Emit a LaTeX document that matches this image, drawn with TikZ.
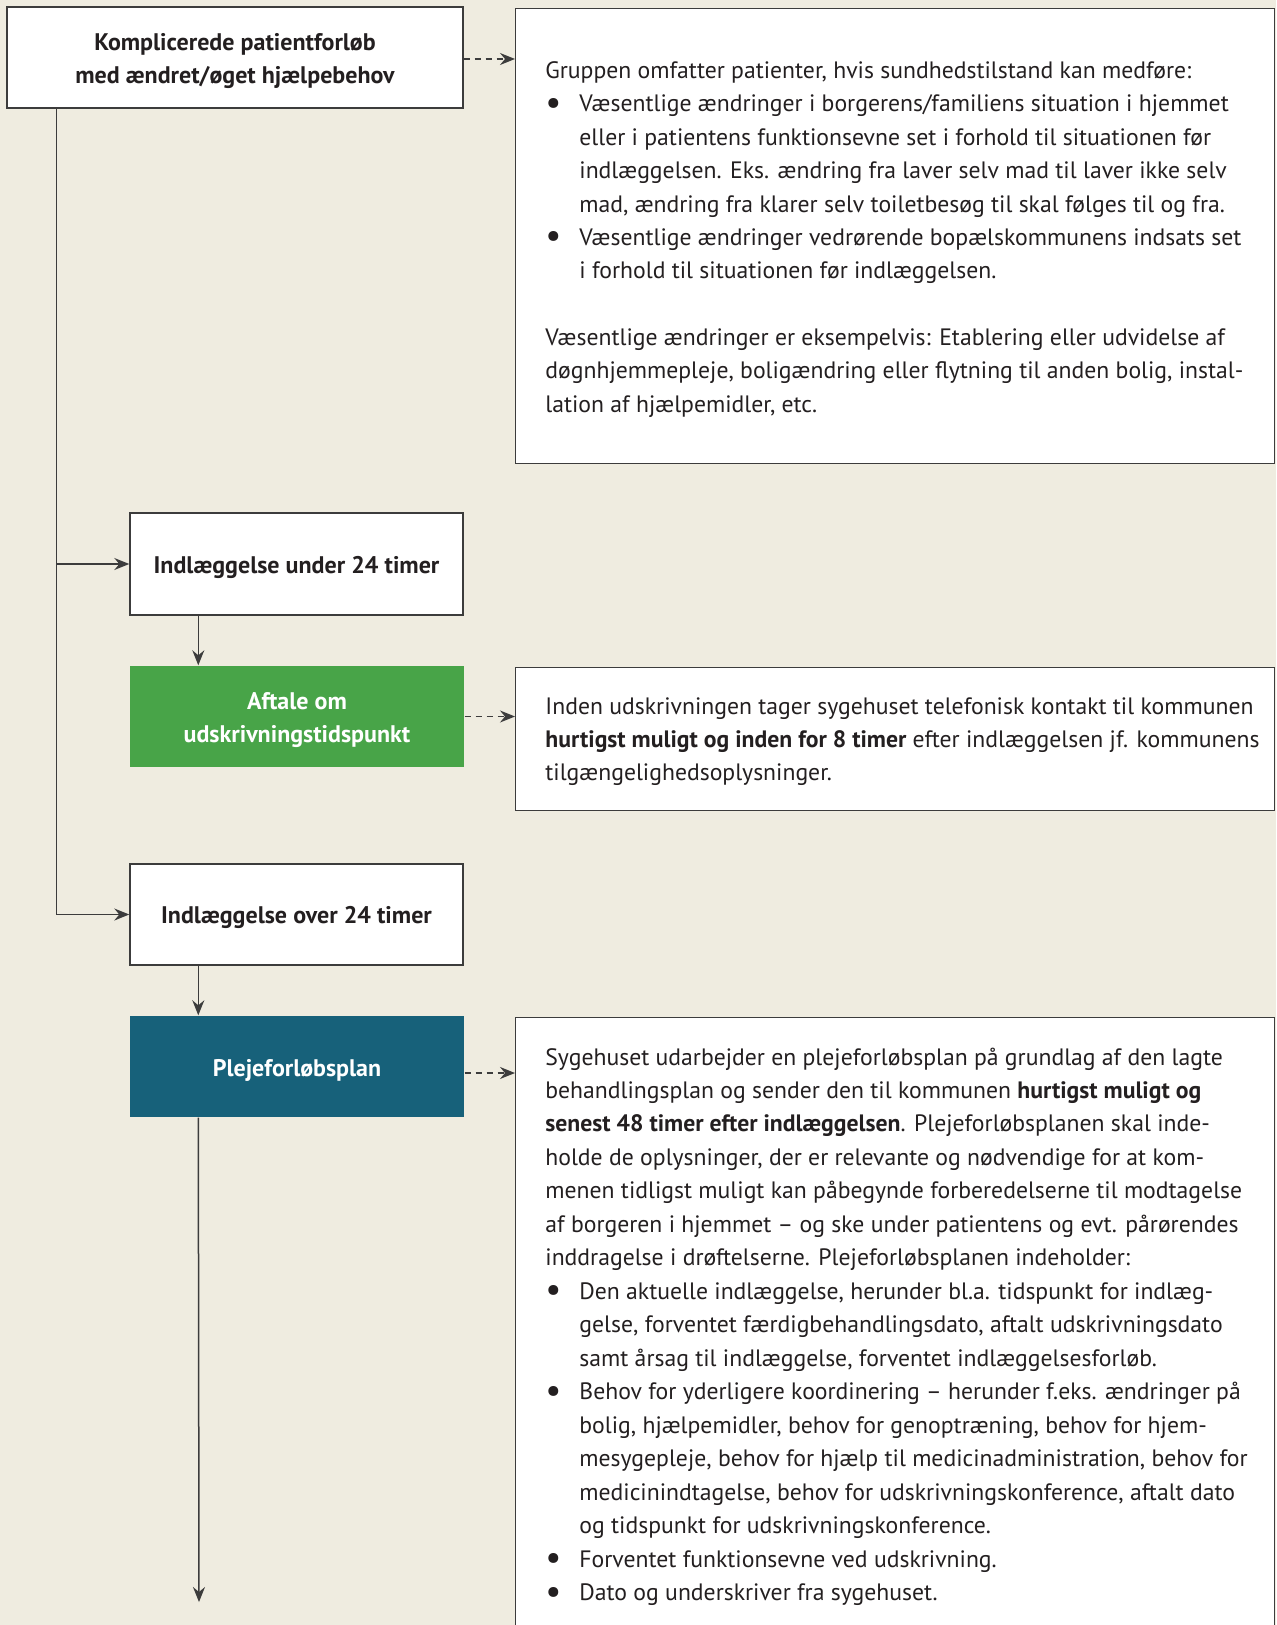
\documentclass[tikz,border=0pt]{standalone}
\usepackage{fontspec}
\usepackage{graphicx}
\setmainfont{PT Sans}
\usetikzlibrary{arrows.meta}
\definecolor{bg}{HTML}{EFECE0}
\definecolor{linec}{HTML}{3C3C3C}
\definecolor{txt}{HTML}{231F20}
\definecolor{grn}{HTML}{48A448}
\definecolor{teal}{HTML}{17617A}
\newcommand{\bul}{\makebox[17pt][l]{\raisebox{-1.2pt}{\scalebox{1.5}{\textbullet}}}}
\newcommand{\ind}{\hspace*{17pt}}
\tikzset{
  lbox/.style={draw=linec, line width=0.7pt, fill=white, inner sep=0pt},
  gbox/.style={lbox, draw=none, fill=grn},
  tbox/.style={lbox, draw=none, fill=teal},
  lbl/.style={text=txt, align=center, inner sep=0pt, font=\bfseries\fontsize{12}{16.5}\selectfont},
  wlbl/.style={lbl, text=white},
  infobox/.style={draw=linec, line width=0.7pt, fill=white, inner sep=0pt, anchor=north west},
  body/.style={anchor=base west, inner sep=0pt, text=txt, font=\fontsize{11.85}{14}\selectfont},
  conn/.style={draw=linec, line width=0.75pt, -{Stealth[length=7.5pt,width=6pt,inset=2.5pt]}},
  dconn/.style={conn, dash pattern=on 3pt off 2.5pt}
}
\begin{document}
\begin{tikzpicture}[x=0.5pt,y=-0.5pt]
\useasboundingbox[fill=bg] (0,0) rectangle (1276,1625);
% left column boxes
\node[lbox, minimum width=228pt, minimum height=50.5pt] (komp) at (235,57.5) {};
\node[lbox, minimum width=166.5pt, minimum height=51pt] (under) at (296.5,564) {};
\node[gbox, minimum width=167pt, minimum height=50.5pt] (aftale) at (297,716.5) {};
\node[lbox, minimum width=166.5pt, minimum height=50.5pt] (over) at (296.5,914.5) {};
\node[tbox, minimum width=167pt, minimum height=50.5pt] (pleje) at (297,1066.5) {};
% left column labels
\node[lbl] (komp-t) at ([yshift=-1.9pt]komp.center) {Komplicerede patientforløb\\med ændret/øget hjælpebehov};
\node[lbl] (under-t) at ([yshift=-1.6pt]under.center) {Indlæggelse under 24 timer};
\node[wlbl] (aftale-t) at ([yshift=-1.9pt]aftale.center) {Aftale om\\udskrivningstidspunkt};
\node[lbl] (over-t) at ([yshift=-1.6pt]over.center) {Indlæggelse over 24 timer};
\node[wlbl] (pleje-t) at ([yshift=-1.9pt]pleje.center) {Plejeforløbsplan};
% right column boxes
\node[infobox, minimum width=379.5pt, minimum height=227.5pt] (info1) at (515,8) {};
\node[infobox, minimum width=379.5pt, minimum height=71.5pt] (info2) at (515,667) {};
\node[infobox, minimum width=379.5pt, minimum height=311.5pt] (info3) at (515,1017) {};
% texts box 1
\foreach \t [count=\i] in {
  {Gruppen omfatter patienter, hvis sundhedstilstand kan medføre:},
  {\bul Væsentlige ændringer i borgerens/familiens situation i hjemmet},
  {\ind eller i patientens funktionsevne set i forhold til situationen før},
  {\ind indlæggelsen. Eks. ændring fra laver selv mad til laver ikke selv},
  {\ind mad, ændring fra klarer selv toiletbesøg til skal følges til og fra.},
  {\bul Væsentlige ændringer vedrørende bopælskommunens indsats set},
  {\ind i forhold til situationen før indlæggelsen.}}
  \node[body] (ta\i) at (545,{78.5+33.38*(\i-1)}) {\t};
\foreach \t [count=\i from 9] in {
  {Væsentlige ændringer er eksempelvis: Etablering eller udvidelse af},
  {døgnhjemmepleje, boligændring eller flytning til anden bolig, instal-},
  {lation af hjælpemidler, etc.}}
  \node[body] (ta\i) at (545,{78.5+33.38*(\i-1)}) {\t};
% texts box 2
\foreach \t [count=\i] in {
  {Inden udskrivningen tager sygehuset telefonisk kontakt til kommunen},
  {\textbf{hurtigst muligt og inden for 8 timer} efter indlæggelsen jf. kommunens},
  {tilgængelighedsoplysninger.}}
  \node[body] (tb\i) at (545,{714+33.4*(\i-1)}) {\t};
% texts box 3
\foreach \t [count=\i] in {
  {Sygehuset udarbejder en plejeforløbsplan på grundlag af den lagte},
  {behandlingsplan og sender den til kommunen \textbf{hurtigst muligt og}},
  {\textbf{senest 48 timer efter indlæggelsen}. Plejeforløbsplanen skal inde-},
  {holde de oplysninger, der er relevante og nødvendige for at kom-},
  {menen tidligst muligt kan påbegynde forberedelserne til modtagelse},
  {af borgeren i hjemmet – og ske under patientens og evt. pårørendes},
  {inddragelse i drøftelserne. Plejeforløbsplanen indeholder:},
  {\bul Den aktuelle indlæggelse, herunder bl.a. tidspunkt for indlæg-},
  {\ind gelse, forventet færdigbehandlingsdato, aftalt udskrivningsdato},
  {\ind samt årsag til indlæggelse, forventet indlæggelsesforløb.},
  {\bul Behov for yderligere koordinering – herunder f.eks. ændringer på},
  {\ind bolig, hjælpemidler, behov for genoptræning, behov for hjem-},
  {\ind mesygepleje, behov for hjælp til medicinadministration, behov for},
  {\ind medicinindtagelse, behov for udskrivningskonference, aftalt dato},
  {\ind og tidspunkt for udskrivningskonference.},
  {\bul Forventet funktionsevne ved udskrivning.},
  {\bul Dato og underskriver fra sygehuset.}}
  \node[body] (tc\i) at (545,{1065+33.49*(\i-1)}) {\t};
% connectors
\draw[conn] ([xshift=25pt]komp.south west) |- (over.west);
\draw[conn] ([xshift=25pt]komp.south west |- under.west) -- (under.west);
\draw[conn] ([xshift=34.5pt]under.south west) -- ([xshift=34.5pt]aftale.north west);
\draw[conn] ([xshift=34.5pt]over.south west) -- ([xshift=34.5pt]pleje.north west);
\coordinate (out) at (199,1602);
\draw[conn] ([xshift=34.5pt]pleje.south west) -- (out);
\draw[dconn] ([yshift=-0.75pt]komp.east) -- ([yshift=-0.75pt]komp.east -| info1.west);
\draw[dconn] (aftale.east) -- (aftale.east -| info2.west);
\draw[dconn] ([yshift=-3.25pt]pleje.east) -- ([yshift=-3.25pt]pleje.east -| info3.west);
\end{tikzpicture}
\end{document}
